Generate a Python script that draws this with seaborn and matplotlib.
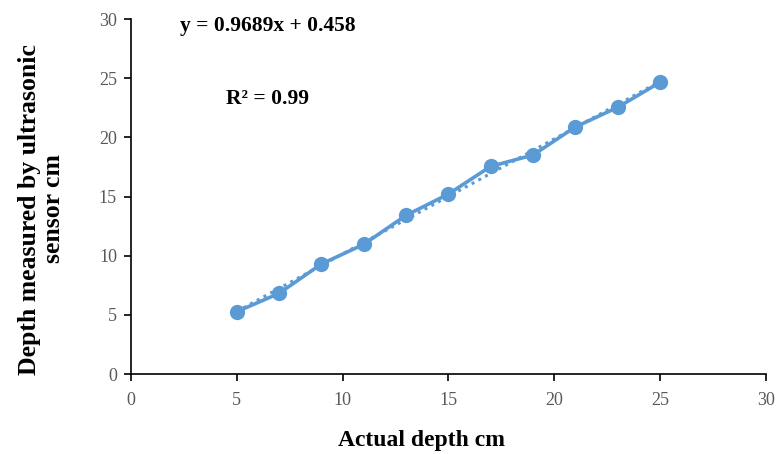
import numpy as np
import pandas as pd
import seaborn as sns
import matplotlib
matplotlib.use("Agg")
import matplotlib.pyplot as plt

actual_depth = [5, 7, 9, 11, 13, 15, 17, 19, 21, 23, 25]
sensor_depth = [5.27, 6.82, 9.3, 10.96, 13.41, 15.21, 17.55, 18.51, 20.88, 22.54, 24.65]
x_ticks = [0, 5, 10, 15, 20, 25, 30]
y_ticks = [0, 5, 10, 15, 20, 25, 30]
equation_text = "y = 0.9689x + 0.458"
r2_text = "R² = 0.99"

sns.set_theme(style="white")
plt.rcParams['font.family'] = ['Liberation Serif', 'DejaVu Serif']
plt.rcParams['text.color'] = 'black'
plt.rcParams['axes.labelcolor'] = 'black'

df = pd.DataFrame({"actual": actual_depth, "sensor": sensor_depth})
color = "#5B9BD5"

fig = plt.figure(figsize=(7.79, 4.54), dpi=100)
ax = fig.add_axes([0.168, 0.176, 0.815, 0.782])

# trendline (dotted linear fit)
sns.regplot(data=df, x="actual", y="sensor", ax=ax, ci=None, scatter=False,
            color=color, line_kws=dict(linestyle=(0, (1, 1.5)), linewidth=2.2),
            truncate=True)
sns.lineplot(data=df, x="actual", y="sensor", ax=ax, color=color, linewidth=2.6,
             marker="o", markersize=11, markeredgewidth=0)

ax.set_xlim(0, 30)
ax.set_ylim(0, 30)
ax.set_xticks(x_ticks)
ax.set_yticks(y_ticks)
ax.tick_params(axis='both', direction='out', length=5, width=1.2, color='black',
               labelsize=13, labelcolor='#595959', bottom=True, left=True)
ax.tick_params(axis='x', pad=8)
ax.tick_params(axis='y', pad=5)
for s in ['top', 'right']:
    ax.spines[s].set_visible(False)
for s in ['left', 'bottom']:
    ax.spines[s].set_color('black')
    ax.spines[s].set_linewidth(1.2)

ax.set_xlabel("Actual depth cm", fontsize=17, fontweight='bold')
ax.xaxis.set_label_coords(0.457, -0.158)
ax.set_ylabel("Depth measured by ultrasonic\nsensor cm", fontsize=18.5,
              fontweight='bold', linespacing=1.1)
ax.yaxis.set_label_coords(-0.103, 0.465)

ax.text(2.3, 29.45, equation_text, fontsize=15.5, fontweight='bold', va='center', ha='left')
ax.text(4.5, 23.25, r2_text, fontsize=15.5, fontweight='bold', va='center', ha='left')

fig.savefig("out.png", dpi=100)
